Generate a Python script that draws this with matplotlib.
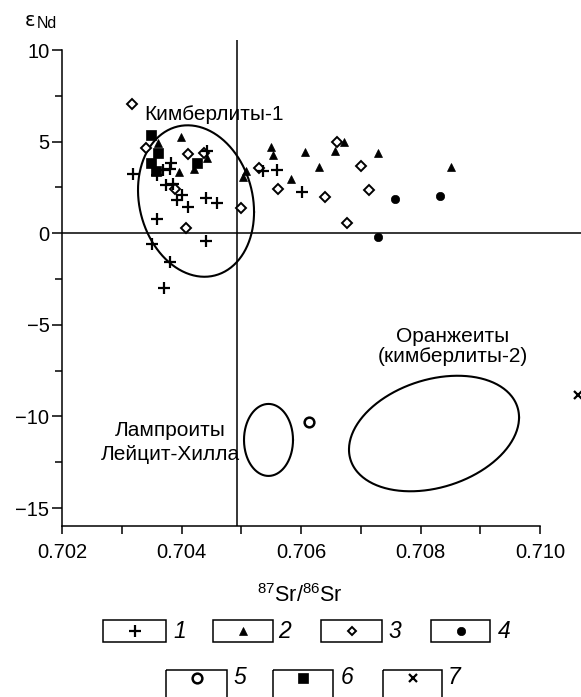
import numpy as np
import matplotlib
matplotlib.use("Agg")
import matplotlib.pyplot as plt
from matplotlib.patches import Rectangle

plt.rcParams['font.family'] = ['Liberation Sans', 'DejaVu Sans']
plt.rcParams['mathtext.fontset'] = 'custom'
plt.rcParams['mathtext.rm'] = 'Liberation Sans'
plt.rcParams['mathtext.it'] = 'Liberation Sans:italic'

# --- data: 87Sr/86Sr vs eps Nd ---
g1_sr = [0.703193, 0.703595, 0.703695, 0.703808, 0.703819, 0.703741, 0.703853,
         0.703925, 0.704000, 0.704109, 0.704402, 0.704589, 0.703585, 0.703501,
         0.703808, 0.704410, 0.703699, 0.704432, 0.705369, 0.705593, 0.706012]
g1_nd = [3.24, 3.16, 3.48, 3.51, 3.84, 2.64, 2.67,
         1.84, 2.09, 1.44, 1.93, 1.65, 0.76, -0.57,
         -1.57, -0.40, -2.97, 4.47, 3.40, 3.46, 2.25]

g2_sr = [0.703602, 0.703997, 0.703958, 0.704201, 0.704422, 0.705080, 0.705021,
         0.705503, 0.705523, 0.706072, 0.705828, 0.706306, 0.706569, 0.706720,
         0.707289, 0.708506]
g2_nd = [4.95, 5.28, 3.35, 3.49, 4.11, 3.42, 3.06,
         4.73, 4.25, 4.45, 2.98, 3.64, 4.51, 4.97,
         4.37, 3.64]

g3_sr = [0.703177, 0.703406, 0.704109, 0.704377, 0.703891, 0.704070, 0.704991,
         0.705302, 0.705623, 0.706608, 0.706996, 0.706407, 0.707141, 0.706770]
g3_nd = [7.04, 4.67, 4.31, 4.36, 2.40, 0.31, 1.36,
         3.58, 2.43, 5.00, 3.67, 1.97, 2.34, 0.55]

g4_sr = [0.707568, 0.708326, 0.707289]
g4_nd = [1.87, 2.04, -0.19]

g5_sr = [0.706134]
g5_nd = [-10.30]

g6_sr = [0.703490, 0.703602, 0.703490, 0.703573, 0.704259]
g6_nd = [5.37, 4.37, 3.82, 3.40, 3.84]

g7_sr = [0.710636]
g7_nd = [-8.83]

# fields: centre and two conjugate half-axis vectors (Sr, Nd)
field_kimb1 = dict(c=(0.704243, 1.76), u=(0.000971, -0.60), v=(0.0, 4.09))
field_lamp = dict(c=(0.705456, -11.28), u=(0.00041, 0.0), v=(0.0, 1.965))
field_orange = dict(c=(0.708226, -10.93), u=(0.001423, 0.873), v=(0.0, 3.03))

legend_labels = ['1', '2', '3', '4', '5', '6', '7']

W, H = 581, 697
fig = plt.figure(figsize=(W / 100, H / 100), dpi=100)
ax = fig.add_axes([62 / W, (H - 526.4) / H, (W - 62) / W, (526.4 - 40) / H])
ax.set_xlim(0.702, 0.710686)
ax.set_ylim(-16, 10.55)

for s in ('top', 'right'):
    ax.spines[s].set_visible(False)
ax.spines['left'].set_bounds(-16, 10)
ax.spines['bottom'].set_bounds(0.702, 0.710)
for s in ('left', 'bottom'):
    ax.spines[s].set_linewidth(1.1)

ax.set_xticks(np.arange(0.702, 0.7101, 0.002))
ax.set_xticklabels(['0.702', '0.704', '0.706', '0.708', '0.710'])
ax.set_xticks(np.arange(0.703, 0.7101, 0.002), minor=True)
ax.set_yticks([-15, -10, -5, 0, 5, 10])
ax.set_yticklabels(['\u221215', '\u221210', '\u22125', '0', '5', '10'])
ax.set_yticks(np.arange(-12.5, 10, 5), minor=True)
ax.tick_params(axis='x', which='major', length=6, width=1.1, pad=6, labelsize=14.5)
ax.tick_params(axis='x', which='minor', length=6, width=1.1)
ax.tick_params(axis='y', which='major', length=7, width=1.1, pad=2, labelsize=14.5)
ax.tick_params(axis='y', which='minor', length=5, width=1.1)

# reference lines
ax.axvline(0.704929, color='black', lw=1.1, zorder=1)
ax.axhline(0.0, color='black', lw=1.1, zorder=1)

# fields
t = np.linspace(0, 2 * np.pi, 300)
for f in (field_kimb1, field_lamp, field_orange):
    cx, cy = f['c']
    ux, uy = f['u']
    vx, vy = f['v']
    ax.plot(cx + ux * np.cos(t) + vx * np.sin(t),
            cy + uy * np.cos(t) + vy * np.sin(t),
            color='black', lw=1.5, zorder=2)

# groups
styles = {
    '1': dict(marker='+', ms=8.5, mew=1.6, mfc='black', mec='black'),
    '2': dict(marker='^', ms=6, mew=0.5, mfc='black', mec='black'),
    '3': dict(marker='D', ms=5.2, mew=1.4, mfc='white', mec='black'),
    '4': dict(marker='o', ms=6, mew=0.5, mfc='black', mec='black'),
    '5': dict(marker='o', ms=7, mew=1.8, mfc='white', mec='black'),
    '6': dict(marker='s', ms=6.5, mew=0.5, mfc='black', mec='black'),
    '7': dict(marker='x', ms=6, mew=1.6, mfc='black', mec='black'),
}
groups = [('3', g3_sr, g3_nd), ('2', g2_sr, g2_nd), ('4', g4_sr, g4_nd),
          ('5', g5_sr, g5_nd), ('6', g6_sr, g6_nd), ('1', g1_sr, g1_nd),
          ('7', g7_sr, g7_nd)]
for key, xs, ys in groups:
    ax.plot(xs, ys, ls='none', zorder=3, **styles[key])

# field names
fs = 15
ax.text(0.704544, 6.51, 'Кимберлиты-1', ha='center', va='center', fontsize=fs)
ax.text(0.703808, -10.74, 'Лампроиты', ha='center', va='center', fontsize=fs)
ax.text(0.703808, -12.10, 'Лейцит-Хилла', ha='center', va='center', fontsize=fs)
ax.text(0.708536, -5.65, 'Оранжеиты', ha='center', va='center', fontsize=fs)
ax.text(0.708536, -6.75, '(кимберлиты-2)', ha='center', va='center', fontsize=fs)

# axis titles and legend in figure pixel space
ov = fig.add_axes([0, 0, 1, 1], zorder=5)
ov.set_xlim(0, W)
ov.set_ylim(H, 0)
ov.axis('off')
ov.patch.set_alpha(0)

ov.text(25, 21, 'ε', ha='left', va='center', fontsize=14, family='DejaVu Sans')
ov.text(37, 24, 'Nd', ha='left', va='center', fontsize=11.5)
ov.text(300, 596, r'$\mathregular{^{87}Sr/^{86}Sr}$', ha='center', va='center',
        fontsize=15.5)

boxes = [(103, 166, 620, 642, 173), (213, 273, 620, 642, 278),
         (321, 382, 620, 642, 388), (431, 490, 620, 642, 498),
         (166, 227, 670, 700, 233), (273, 333, 670, 700, 341),
         (383, 442, 670, 700, 448)]
for lab, (x0, x1, y0, y1, tx) in zip(legend_labels, boxes):
    ov.add_patch(Rectangle((x0, y0), x1 - x0, y1 - y0, fill=False,
                           lw=1.1, ec='black', clip_on=False))
    yc = 631 if y0 == 620 else 678
    st = dict(styles[lab])
    if lab in ('2', '3'):
        st['ms'] = st['ms'] * 0.85
    ov.plot([(x0 + x1) / 2], [yc], ls='none', **st)
    ov.text(tx, yc, lab, ha='left', va='center', fontsize=16.5, style='italic')

fig.savefig('out.png', dpi=100)
